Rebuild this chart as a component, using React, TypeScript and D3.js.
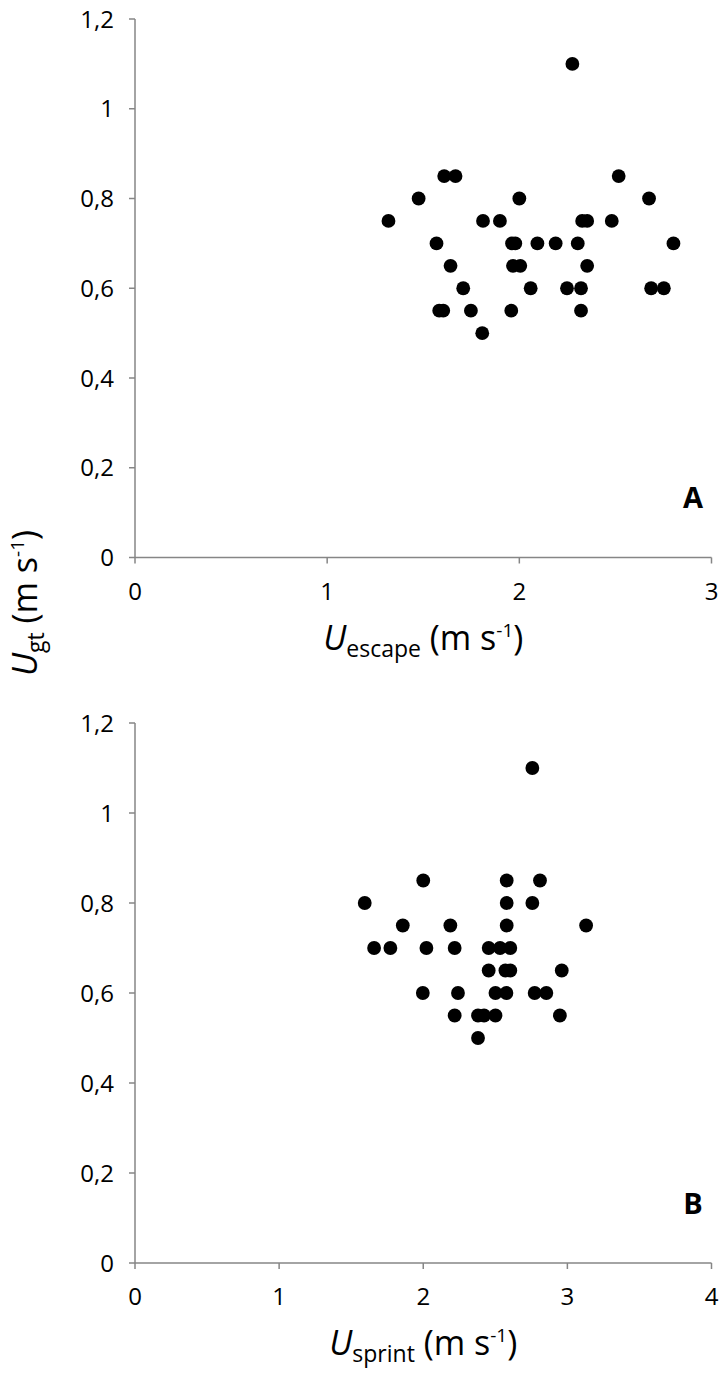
import React from "react";
import * as d3 from "d3";

// Panel A: U_escape (x) vs U_gt (y)
const escapeX = [
  2.276,
  1.609, 1.668, 2.517,
  1.476, 2.0, 2.675,
  1.319, 1.811, 1.899, 2.327, 2.353, 2.481,
  1.569, 1.962, 1.979, 2.094, 2.189, 2.304, 2.802,
  1.642, 1.967, 2.005, 2.353,
  1.708, 2.059, 2.248, 2.321, 2.686, 2.752,
  1.583, 1.604, 1.748, 1.958, 2.321,
  1.807,
];
const escapeY = [
  1.1,
  0.85, 0.85, 0.85,
  0.8, 0.8, 0.8,
  0.75, 0.75, 0.75, 0.75, 0.75, 0.75,
  0.7, 0.7, 0.7, 0.7, 0.7, 0.7, 0.7,
  0.65, 0.65, 0.65, 0.65,
  0.6, 0.6, 0.6, 0.6, 0.6, 0.6,
  0.55, 0.55, 0.55, 0.55, 0.55,
  0.5,
];

// Panel B: U_sprint (x) vs U_gt (y)
const sprintX = [
  2.757,
  2.0, 2.579, 2.81,
  1.594, 2.579, 2.757,
  1.858, 2.188, 2.579, 3.13,
  1.659, 1.772, 2.022, 2.218, 2.454, 2.533, 2.604,
  2.454, 2.57, 2.604, 2.961,
  1.997, 2.241, 2.501, 2.577, 2.773, 2.854,
  2.218, 2.38, 2.422, 2.501, 2.948,
  2.38,
];
const sprintY = [
  1.1,
  0.85, 0.85, 0.85,
  0.8, 0.8, 0.8,
  0.75, 0.75, 0.75, 0.75,
  0.7, 0.7, 0.7, 0.7, 0.7, 0.7, 0.7,
  0.65, 0.65, 0.65, 0.65,
  0.6, 0.6, 0.6, 0.6, 0.6, 0.6,
  0.55, 0.55, 0.55, 0.55, 0.55,
  0.5,
];

const yTicks = [0, 0.2, 0.4, 0.6, 0.8, 1, 1.2];
const xTicksA = [0, 1, 2, 3];
const xTicksB = [0, 1, 2, 3, 4];

const AXIS = "#868686";
const FONT = "'Open Sans', 'Liberation Sans', sans-serif";

const fmt = (v: number) => String(v).replace(".", ",");

type PanelProps = {
  xs: number[];
  ys: number[];
  xTicks: number[];
  xMax: number;
  top: number;
  bottom: number;
  letter: string;
  sub: string;
};

function Panel({ xs, ys, xTicks, xMax, top, bottom, letter, sub }: PanelProps) {
  const left = 135;
  const right = 711.5;
  const x = d3.scaleLinear().domain([0, xMax]).range([left, right]);
  const y = d3.scaleLinear().domain([0, 1.2]).range([bottom, top]);
  return (
    <g>
      {/* y axis */}
      <line x1={left} x2={left} y1={y(1.2)} y2={y(0)} stroke={AXIS} strokeWidth={1.5} />
      {yTicks.map((t) => (
        <g key={"y" + t}>
          <line x1={left - 6} x2={left} y1={y(t)} y2={y(t)} stroke={AXIS} strokeWidth={1.5} />
          <text x={left - 21} y={y(t)} dy="0.36em" textAnchor="end" fontSize={24} fontFamily={FONT} fill="#000">
            {fmt(t)}
          </text>
        </g>
      ))}
      {/* x axis */}
      <line x1={left} x2={x(xMax)} y1={y(0)} y2={y(0)} stroke={AXIS} strokeWidth={1.5} />
      {xTicks.map((t) => (
        <g key={"x" + t}>
          <line x1={x(t)} x2={x(t)} y1={y(0)} y2={y(0) + 6} stroke={AXIS} strokeWidth={1.5} />
          <text x={x(t)} y={y(0) + 42} textAnchor="middle" fontSize={24} fontFamily={FONT} fill="#000">
            {fmt(t)}
          </text>
        </g>
      ))}
      {/* x title */}
      <text x={(left + right) / 2} y={y(0) + 92} textAnchor="middle" fontSize={34} fontFamily={FONT} fill="#000">
        <tspan fontStyle="italic">U</tspan>
        <tspan fontSize={23} dy={7}>{sub}</tspan>
        <tspan dy={-7}> (m s</tspan>
        <tspan fontSize={19} dy={-13}>-1</tspan>
        <tspan dy={13}>)</tspan>
      </text>
      {/* points */}
      {xs.map((v, i) => (
        <circle key={i} cx={x(v)} cy={y(ys[i])} r={6.9} fill="#000" />
      ))}
      <text x={693} y={y(0.11)} textAnchor="middle" fontSize={29} fontWeight="bold" fontFamily={FONT} fill="#000">
        {letter}
      </text>
    </g>
  );
}

export default function App() {
  return (
    <svg
      width={726}
      height={1378}
      style={{ position: "absolute", left: 0, top: 0, display: "block", background: "#fff" }}
    >
      <rect width={726} height={1378} fill="#fff" />
      <Panel xs={escapeX} ys={escapeY} xTicks={xTicksA} xMax={3} top={19} bottom={557.5} letter="A" sub="escape" />
      <Panel xs={sprintX} ys={sprintY} xTicks={xTicksB} xMax={4} top={723} bottom={1263} letter="B" sub="sprint" />
      {/* shared y title */}
      <text transform="translate(37,603) rotate(-90)" textAnchor="middle" fontSize={34} fontFamily={FONT} fill="#000">
        <tspan fontStyle="italic">U</tspan>
        <tspan fontSize={23} dy={7}>gt</tspan>
        <tspan dy={-7}> (m s</tspan>
        <tspan fontSize={19} dy={-13}>-1</tspan>
        <tspan dy={13}>)</tspan>
      </text>
    </svg>
  );
}
